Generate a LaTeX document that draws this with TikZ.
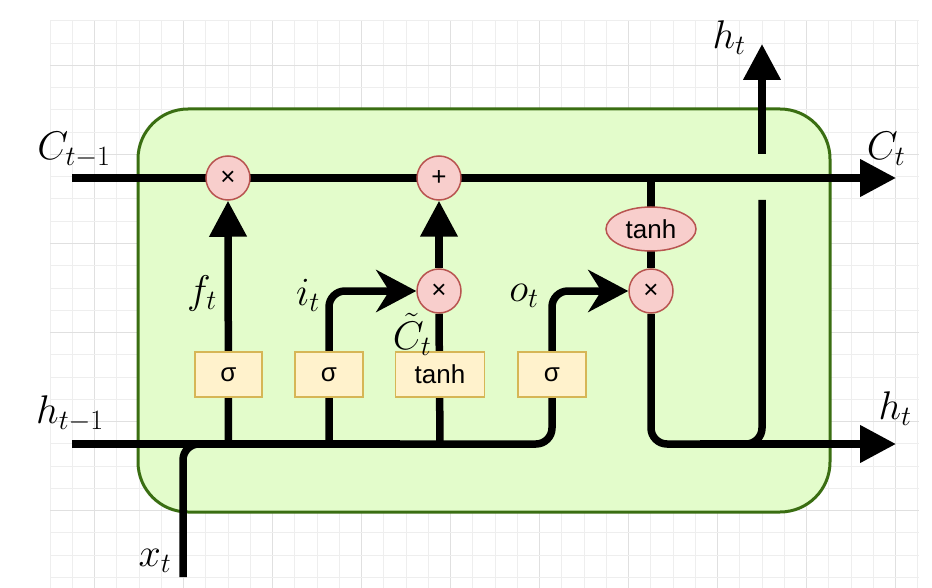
\RequirePackage{fix-cm}
\documentclass[tikz,border=0pt]{standalone}
\usepackage{fontspec}
\setmainfont{Liberation Sans}
\usetikzlibrary{arrows.meta,shapes.geometric}
\definecolor{cellfill}{HTML}{E3FCCB}
\definecolor{cellline}{HTML}{3A6E12}
\definecolor{opfill}{HTML}{F8CECC}
\definecolor{opline}{HTML}{B85450}
\definecolor{gatefill}{HTML}{FFF2CC}
\definecolor{gateline}{HTML}{D6B656}
\definecolor{gridminor}{HTML}{EEEEEE}
\definecolor{gridmajor}{HTML}{E0E0E0}
\pgfdeclarelayer{gridlayer}
\pgfdeclarelayer{linelayer}
\pgfsetlayers{gridlayer,linelayer,main}
\begin{document}
\begin{tikzpicture}[x=1pt,y=-1pt,
  wire/.style={line width=7.5pt, black},
  tri/.style={-{Triangle[length=36pt,width=36pt]}},
  stl/.style={-{Stealth[length=40pt,width=42pt,inset=13pt]}},
  op/.style={circle, draw=opline, fill=opfill, line width=1.5pt, minimum size=44pt, inner sep=0pt, font=\fontsize{26}{28}\selectfont},
  opell/.style={ellipse, draw=opline, fill=opfill, line width=1.5pt, minimum width=90pt, minimum height=44pt, inner sep=0pt, font=\fontsize{26}{28}\selectfont},
  gate/.style={rectangle, draw=gateline, fill=gatefill, line width=1.5pt, minimum height=45pt, inner sep=0pt, font=\fontsize{26}{28}\selectfont},
  lbl/.style={font=\fontsize{40}{44}\selectfont, inner sep=0pt}]
\useasboundingbox (0,0) rectangle (932,588);
\begin{pgfonlayer}{gridlayer}
  \fill[white] (0,0) rectangle (932,588);
  \foreach \k in {0,...,39} {
    \pgfmathsetmacro{\gx}{50+\k*22.25}
    \pgfmathtruncatemacro{\m}{mod(\k,4)==2}
    \ifnum\m=1
      \draw[gridmajor, line width=1.4pt] (\gx,21) -- (\gx,588);
    \else
      \draw[gridminor, line width=1pt] (\gx,21) -- (\gx,588);
    \fi
  }
  \foreach \k in {0,...,25} {
    \pgfmathsetmacro{\gy}{21+\k*22.25}
    \pgfmathtruncatemacro{\m}{mod(\k,4)==2}
    \ifnum\m=1
      \draw[gridmajor, line width=1.4pt] (50,\gy) -- (919,\gy);
    \else
      \draw[gridminor, line width=1pt] (50,\gy) -- (919,\gy);
    \fi
  }
  \draw[cellline, fill=cellfill, line width=3pt, rounded corners=50pt] (138,109) rectangle (830,512);
\end{pgfonlayer}

% operators
\node[op] (mf) at (228,178) {×};
\node[op] (ma) at (439,178) {+};
\node[op] (mi) at (439,291) {×};
\node[op] (mo) at (651,291) {×};
\node[opell] (th) at (651,229) {tanh};
% gates
\node[gate, minimum width=67pt] (sf) at (228.5,374.5) {σ};
\node[gate, minimum width=68pt] (si) at (329,374.5) {σ};
\node[gate, minimum width=89pt] (st) at (440,374.5) {tanh};
\node[gate, minimum width=68pt] (so) at (552,374.5) {σ};
% end points
\coordinate (cin) at (72,178);
\coordinate (cout) at (896,178);
\coordinate (hin) at (72,444);
\coordinate (hout) at (896,444);
\coordinate (xin) at (183,577);
\coordinate (hbr) at (762,444);
\coordinate (hupa) at (762,200);
\coordinate (hupb) at (762,154);
\coordinate (htop) at (762,44);
\coordinate (cdown) at (651,178);
\coordinate (hjoin) at (651,444);

% labels
\node[lbl] (lCin) at (74,150) {$C_{t-1}$};
\node[lbl] (lhin) at (70,414) {$h_{t-1}$};
\node[lbl] (lx) at (155,561) {$x_t$};
\node[lbl] (lhtop) at (729,38) {$h_t$};
\node[lbl] (lCout) at (886,149) {$C_t$};
\node[lbl] (lhout) at (895,409) {$h_t$};
\node[lbl] (lf) at (202,293) {$f_t$};
\node[lbl] (li) at (308,295) {$i_t$};
\node[lbl] (lct) at (412,334) {$\tilde{C}_t$};
\node[lbl] (lo) at (524,296) {$o_t$};

\begin{pgfonlayer}{linelayer}
  % cell state
  \draw[wire, tri] (cin) -- (cout);
  % hidden input line
  \draw[wire] (hin) -- (400,444);
  \draw[wire, stl, rounded corners=16pt] (xin) |- (so.south |- hin) -- (so.center |- mo) -- (mo.west);
  % forget gate
  \draw[wire, tri] (sf.south |- hin) -- (mf.south);
  % input gate
  \draw[wire, stl, rounded corners=16pt] (si.south |- hin) -- (si.center |- mi) -- (mi.west);
  % candidate
  \draw[wire] (st.south |- hin) -- (mi.south);
  \draw[wire, tri] (mi.north) -- (ma.south);
  % output
  \draw[wire] (cdown) -- (mo.north);
  \draw[wire, rounded corners=16pt] (mo.south) -- (hjoin) -- (hbr) -- (hupa);
  \draw[wire, tri] (700,444) -- (hout);
  \draw[wire, tri] (hupb) -- (htop);
\end{pgfonlayer}
\end{tikzpicture}
\end{document}
